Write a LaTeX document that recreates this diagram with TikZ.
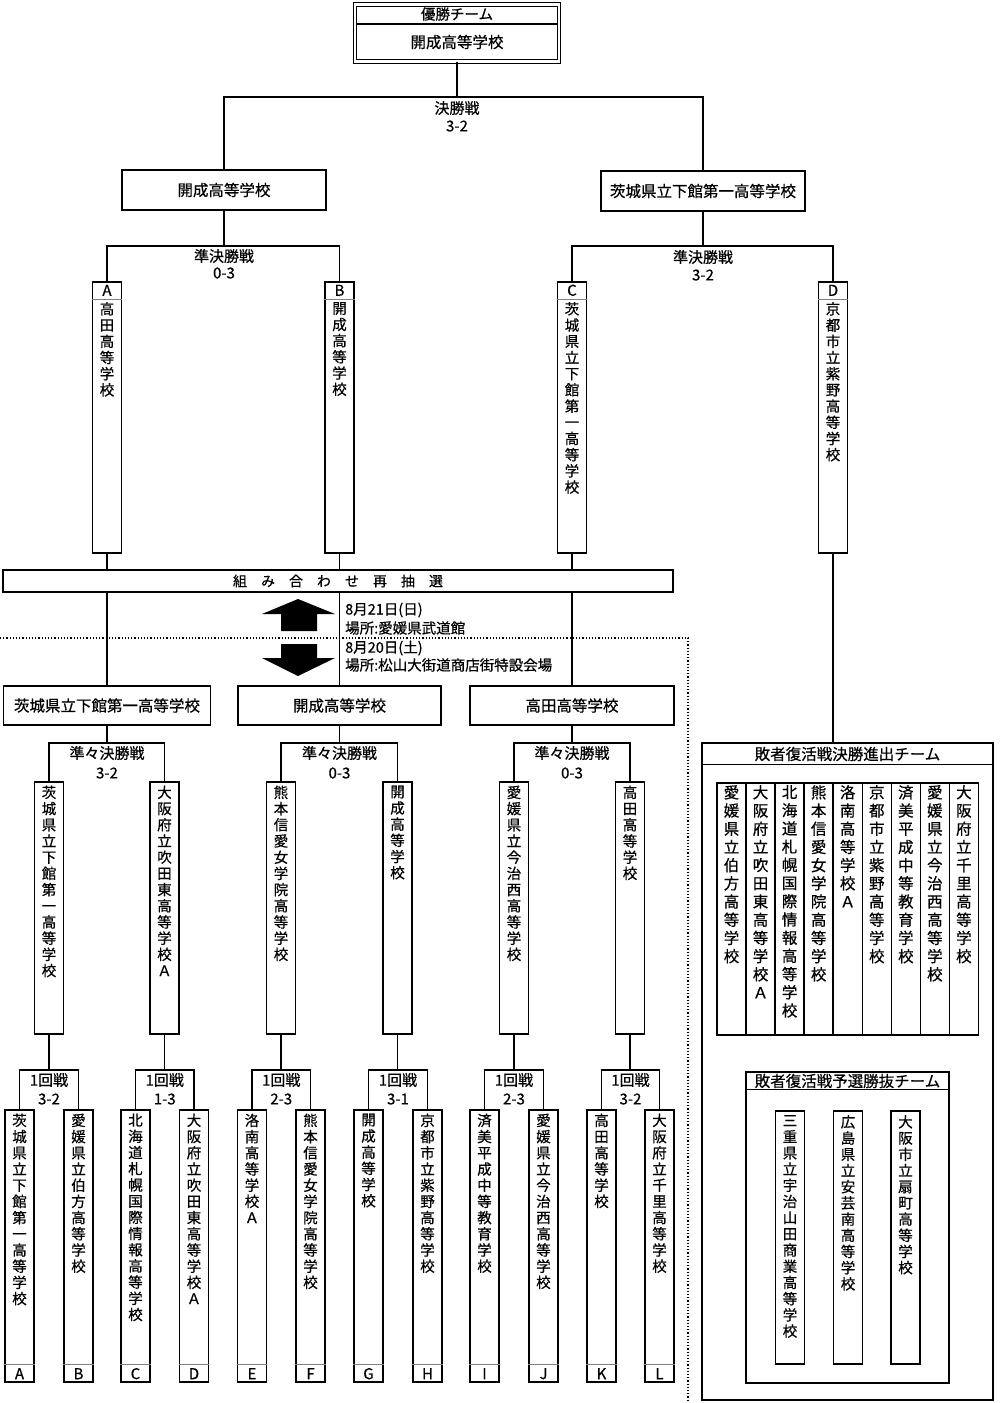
\documentclass[tikz,border=0pt]{standalone}
\usepackage{fontspec}
\setmainfont{Noto Sans CJK JP}[FakeBold=0.6]
\usetikzlibrary{calc}

% one character per line
\newcommand{\tate}[1]{\edef\tatetmp{#1}\expandafter\tatei\tatetmp\relax}
\def\tatei#1{#1\futurelet\tatenext\tateii}
\def\tateii{\ifx\tatenext\relax\expandafter\tateend\else\expandafter\tateiii\fi}
\def\tateiii{\\\tatei}
\def\tateend\relax{}

% [text style]{name}{x}{top}{bottom}{text start}{text}
\newcommand{\tatebox}[7][]{%
  \node[waku, minimum height={#5-#4}] (#2) at ({#3},{(#4+#5)/2}) {};
  \node[tate, #1] (#2t) at ({#3},{#6}) {\tate{#7}};}
\newcommand{\midashi}[2]{%
  \node[moji] (#1m) at ($(#1.north)+(0,9)$) {#2};
  \draw[kugiri] ($(#1.north west)+(0,18)$) -- ($(#1.north east)+(0,18)$);}
\newcommand{\ashi}[2]{%
  \node[moji] (#1m) at ($(#1.south)+(0,-9)$) {#2};
  \draw[kugiri] ($(#1.south west)+(0,-18)$) -- ($(#1.south east)+(0,-18)$);}

\tikzset{
  waku/.style={rectangle, draw=black, line width=1.4pt, inner sep=0pt,
    minimum width=29pt},
  yoko/.style={rectangle, draw=black, line width=1.4pt, inner sep=0pt,
    minimum height=39pt, font=\fontsize{15.5}{15.5}\selectfont},
  tate/.style={inner sep=0pt, anchor=north, align=center,
    font=\fontsize{14.5}{16.2}\selectfont},
  kaisen/.style={inner sep=0pt, font=\fontsize{15}{15}\selectfont},
  moji/.style={inner sep=0pt, font=\fontsize{15}{15}\selectfont},
  sen/.style={line width=1.4pt},
  kugiri/.style={draw=gray, line width=0.7pt},
  yajirushi/.style={fill=black}
}

\begin{document}
\begin{tikzpicture}[x=1pt, y=-1pt]
\useasboundingbox (0,0) rectangle (1000,1403);

% 優勝
\node[yoko, double, double distance=2.2pt, line width=1.1pt,
  minimum width=204pt, minimum height=57pt] (yusho) at (457,33) {};
\draw[sen] (357,24) -- (557,24);
\node[moji, font=\fontsize{14.5}{14.5}\selectfont] (yushot) at (457,14) {優勝チーム};
\node[moji, font=\fontsize{15.5}{15.5}\selectfont] (yushom) at (457,42) {開成高等学校};

% 決勝戦
\node[yoko, minimum width=204pt, minimum height=40pt] (semiL) at (224,190) {開成高等学校};
\node[yoko, minimum width=204pt, minimum height=40pt] (semiR) at (703,191) {茨城県立下館第一高等学校};
\coordinate (kj) at (457,97);
\draw[sen] (yusho.south) -- (kj);
\draw[sen] (semiL.north) |- (kj) -| (semiR.north);
\node[kaisen] (kk) at (457,108) {決勝戦};
\node[kaisen] (ks) at (457,126) {3-2};

% 準決勝戦
\tatebox{tA}{107}{282}{553}{302}{高田高等学校}
\tatebox{tB}{339.5}{282}{553}{302}{開成高等学校}
\tatebox{tC}{572}{282}{553}{302}{茨城県立下館第一高等学校}
\tatebox{tD}{833}{282}{553}{302}{京都市立紫野高等学校}
\midashi{tA}{A}
\midashi{tB}{B}
\midashi{tC}{C}
\midashi{tD}{D}
\coordinate (jL) at (224,246);
\coordinate (jR) at (703,246);
\draw[sen] (semiL.south) -- (jL);
\draw[sen] (tA.north) |- (jL) -| (tB.north);
\draw[sen] (semiR.south) -- (jR);
\draw[sen] (tC.north) |- (jR) -| (tD.north);
\node[kaisen] (jLk) at (224,256) {準決勝戦};
\node[kaisen] (jLs) at (224,273) {0-3};
\node[kaisen] (jRk) at (703,257) {準決勝戦};
\node[kaisen] (jRs) at (703,275) {3-2};

% 組み合わせ再抽選
\node[yoko, minimum width=670pt, minimum height=22pt,
  font=\fontsize{14}{14}\selectfont] (saichusen) at (338,581) {組　み　合　わ　せ　再　抽　選};

\node[yoko, minimum width=207pt] (qfw1) at (107,705.5) {茨城県立下館第一高等学校};
\node[yoko, minimum width=203pt] (qfw2) at (339.5,705.5) {開成高等学校};
\node[yoko, minimum width=204pt] (qfw3) at (572,705.5) {高田高等学校};

\draw[sen] (tA.south) -- (tA.south |- saichusen.north);
\draw[sen] (tB.south) -- (tB.south |- saichusen.north);
\draw[sen] (tC.south) -- (tC.south |- saichusen.north);
\draw[sen] (qfw1.north |- saichusen.south) -- (qfw1.north);
\draw[sen] (qfw2.north |- saichusen.south) -- (qfw2.north);
\draw[sen] (qfw3.north |- saichusen.south) -- (qfw3.north);

% 日程
\fill[yajirushi] (298,599) -- (335,614) -- (317,614) -- (317,631) -- (281,631)
  -- (281,614) -- (262,614) -- cycle;
\fill[yajirushi] (281,644) -- (317,644) -- (317,658) -- (335,658) -- (298,676)
  -- (262,658) -- (281,658) -- cycle;
\node[moji, anchor=west, font=\fontsize{14.5}{14.5}\selectfont] (bi1) at (345,610) {8月21日(日)};
\node[moji, anchor=west, font=\fontsize{14.5}{14.5}\selectfont] (ba1) at (345,628) {場所:愛媛県武道館};
\node[moji, anchor=west, font=\fontsize{14.5}{14.5}\selectfont] (bi2) at (345,648) {8月20日(土)};
\node[moji, anchor=west, font=\fontsize{14.5}{14.5}\selectfont] (ba2) at (345,665) {場所:松山大街道商店街特設会場};
\draw[dotted, line width=1.2pt] (0,638) -- (688,638) -- (688,1403);

% 準々決勝戦
\tatebox{qf1}{49}{782}{1034}{785.5}{茨城県立下館第一高等学校}
\tatebox{qf2}{164.5}{782}{1034}{785.5}{大阪府立吹田東高等学校Ａ}
\tatebox{qf3}{281}{782}{1034}{785.5}{熊本信愛女学院高等学校}
\tatebox{qf4}{397.5}{782}{1034}{785.5}{開成高等学校}
\tatebox{qf5}{514}{782}{1034}{785.5}{愛媛県立今治西高等学校}
\tatebox{qf6}{630}{782}{1034}{785.5}{高田高等学校}
\coordinate (qj1) at (107,743);
\coordinate (qj2) at (339.5,743);
\coordinate (qj3) at (572,743);
\draw[sen] (qfw1.south) -- (qj1);
\draw[sen] (qf1.north) |- (qj1) -| (qf2.north);
\draw[sen] (qfw2.south) -- (qj2);
\draw[sen] (qf3.north) |- (qj2) -| (qf4.north);
\draw[sen] (qfw3.south) -- (qj3);
\draw[sen] (qf5.north) |- (qj3) -| (qf6.north);
\node[kaisen] (qk1) at (107,753) {準々決勝戦};
\node[kaisen] (qs1) at (107,773) {3-2};
\node[kaisen] (qk2) at (339.5,753) {準々決勝戦};
\node[kaisen] (qs2) at (339.5,773) {0-3};
\node[kaisen] (qk3) at (572,753) {準々決勝戦};
\node[kaisen] (qs3) at (572,773) {0-3};

% 1回戦
\foreach \xa/\xb/\ta/\tb/\ma/\mb/\kekka [count=\i] in {
  19.5/78.5/茨城県立下館第一高等学校/愛媛県立伯方高等学校/A/B/3-2,
  135.5/194/北海道札幌国際情報高等学校/大阪府立吹田東高等学校Ａ/C/D/1-3,
  252/310.5/洛南高等学校Ａ/熊本信愛女学院高等学校/E/F/2-3,
  368.5/427.5/開成高等学校/京都市立紫野高等学校/G/H/3-1,
  484.5/543.5/済美平成中等教育学校/愛媛県立今治西高等学校/I/J/2-3,
  601.5/659.5/高田高等学校/大阪府立千里高等学校/K/L/3-2}
{
  \tatebox{r\ma}{\xa}{1110}{1382}{1113.5}{\ta}
  \tatebox{r\mb}{\xb}{1110}{1382}{1113.5}{\tb}
  \ashi{r\ma}{\ma}
  \ashi{r\mb}{\mb}
  \coordinate (rj\i) at ({(\xa+\xb)/2},1070);
  \draw[sen] (qf\i.south) -- (qf\i.south |- rj\i);
  \draw[sen] (r\ma.north) |- (rj\i) -| (r\mb.north);
  \node[kaisen] (rk\i) at ({(\xa+\xb)/2},1080) {1回戦};
  \node[kaisen] (rs\i) at ({(\xa+\xb)/2},1099) {\kekka};
}

% 敗者復活戦
\node[waku, minimum width=291pt, minimum height=657pt] (haisha) at (847.5,1071.5) {};
\node[kaisen, font=\fontsize{15.5}{15.5}\selectfont] (haishat) at (847.5,754) {敗者復活戦決勝進出チーム};
\draw[sen] ($(haisha.north west)+(0,22)$) -- ($(haisha.north east)+(0,22)$);
\draw[sen] (tD.south) -- (tD.south |- haisha.north);
\foreach \s [count=\i] in {愛媛県立伯方高等学校,大阪府立吹田東高等学校Ａ,
  北海道札幌国際情報高等学校,熊本信愛女学院高等学校,洛南高等学校Ａ,
  京都市立紫野高等学校,済美平成中等教育学校,愛媛県立今治西高等学校,
  大阪府立千里高等学校}
  {\tatebox[font=\fontsize{15.5}{18.2}\selectfont]{hs\i}{731.5+29.05*(\i-1)}{783}{1035}{785}{\s}}

\node[waku, minimum width=203pt, minimum height=311pt] (yosen) at (847.5,1227.5) {};
\node[kaisen, font=\fontsize{15.5}{15.5}\selectfont] (yosent) at (847.5,1081) {敗者復活戦予選勝抜チーム};
\draw[sen] ($(yosen.north west)+(0,18)$) -- ($(yosen.north east)+(0,18)$);
\tatebox{ys1}{790}{1111}{1364}{1115}{三重県立宇治山田商業高等学校}
\tatebox{ys2}{848}{1111}{1364}{1115}{広島県立安芸南高等学校}
\tatebox{ys3}{905.5}{1111}{1364}{1115}{大阪市立扇町高等学校}
\end{tikzpicture}
\end{document}
